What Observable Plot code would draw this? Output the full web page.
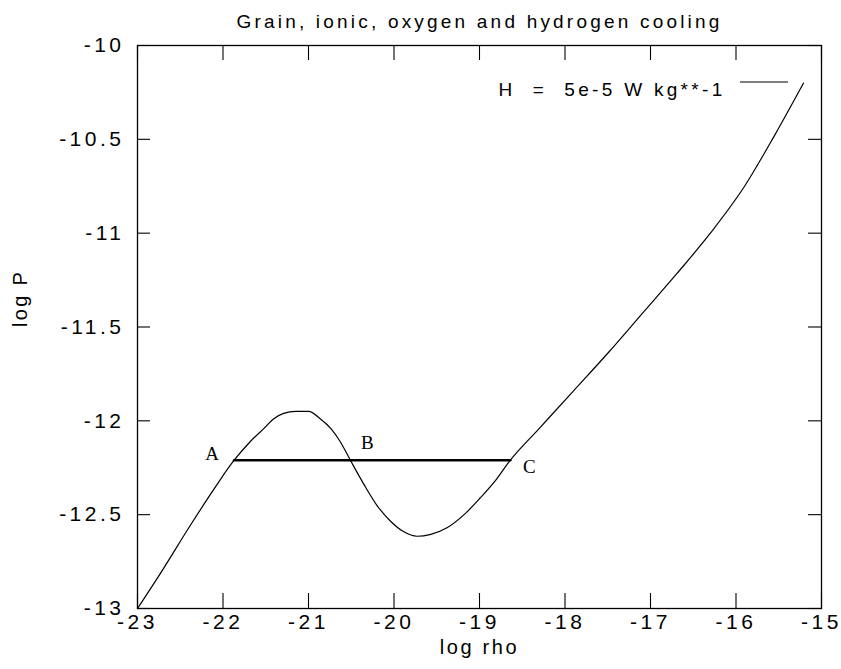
<!DOCTYPE html>
<html>
<head>
<meta charset="utf-8">
<script src="https://cdn.jsdelivr.net/npm/d3@7"></script>
<script src="https://cdn.jsdelivr.net/npm/@observablehq/plot@0.6"></script>
<style>
  html, body { margin: 0; padding: 0; background: #fff; }
  #chart { width: 841px; height: 669px; }
</style>
</head>
<body>
<div id="chart"></div>
<script>
// ---- data ----
const titleText = "Grain, ionic, oxygen and hydrogen cooling";
const legendText = "H  =  5e-5 W kg**-1";
const xLabel = "log rho";
const yLabel = "log P";

const xTicks = [-23, -22, -21, -20, -19, -18, -17, -16, -15];
const yTicks = [-10, -10.5, -11, -11.5, -12, -12.5, -13];

const logRho = [-23.00, -22.70, -22.40, -22.10, -21.87, -21.68, -21.52, -21.41, -21.29, -21.15,
                -21.00, -20.86, -20.74, -20.63, -20.51, -20.35, -20.20, -20.04, -19.89, -19.73,
                -19.57, -19.38, -19.18, -18.99, -18.80, -18.64, -18.30, -17.90, -17.50, -17.10,
                -16.70, -16.30, -15.90, -15.55, -15.21];
const logP   = [-13.00, -12.79, -12.57, -12.36, -12.21, -12.11, -12.04, -11.99, -11.96, -11.95,
                -11.95, -11.99, -12.04, -12.11, -12.21, -12.34, -12.45, -12.535, -12.59, -12.615,
                -12.605, -12.57, -12.50, -12.41, -12.31, -12.21, -12.04, -11.84, -11.64, -11.43,
                -11.22, -11.00, -10.75, -10.48, -10.20];

// equal-pressure line A-B-C
const abcLabels = ["A", "B", "C"];
const abcRho = [-21.87, -20.51, -18.64];
const abcP = -12.21;

// ---- layout ----
const W = 841, H = 669;
const mL = 137, mR = 20, mT = 45, mB = 61;
const fw = W - mL - mR, fh = H - mT - mB;

const curve = logRho.map((x, i) => ({x, y: logP[i]}));
const abc = abcLabels.map((l, i) => ({label: l, x: abcRho[i], y: abcP}));

const serif = "'Liberation Serif', 'DejaVu Serif', serif";

const plot = Plot.plot({
  width: W, height: H,
  marginLeft: mL, marginRight: mR, marginTop: mT, marginBottom: mB,
  style: {fontFamily: "'Liberation Sans', Arial, sans-serif", color: "black", background: "white"},
  x: {domain: [-23, -15]},
  y: {domain: [-13, -10]},
  marks: [
    Plot.frame({stroke: "black", strokeWidth: 1.3}),
    // inward ticks on all four sides
    Plot.ruleX(xTicks, {x: d => d, insetTop: fh - 15, stroke: "black", strokeWidth: 1.1}),
    Plot.ruleX(xTicks, {x: d => d, insetBottom: fh - 15, stroke: "black", strokeWidth: 1.1}),
    Plot.ruleY(yTicks, {y: d => d, insetRight: fw - 13, stroke: "black", strokeWidth: 1.1}),
    Plot.ruleY(yTicks, {y: d => d, insetLeft: fw - 13, stroke: "black", strokeWidth: 1.1}),
    Plot.axisX(xTicks, {tickSize: 0, tickPadding: 6, tickFormat: d => String(d), fontSize: 21, label: null}),
    Plot.axisY(yTicks, {tickSize: 0, tickPadding: 13, tickFormat: d => String(d), fontSize: 21, label: null}),
    // curve
    Plot.line(curve, {x: "x", y: "y", curve: "monotone-x", stroke: "black", strokeWidth: 1.2}),
    // A-C line
    Plot.line(abc, {x: "x", y: "y", stroke: "black", strokeWidth: 2.6}),
    Plot.text(abc.filter(d => d.label === "A"), {x: "x", y: "y", text: "label", dx: -22, dy: -6, fontSize: 19, fontFamily: serif}),
    Plot.text(abc.filter(d => d.label === "B"), {x: "x", y: "y", text: "label", dx: 17, dy: -17, fontSize: 19, fontFamily: serif}),
    Plot.text(abc.filter(d => d.label === "C"), {x: "x", y: "y", text: "label", dx: 19, dy: 7, fontSize: 19, fontFamily: serif}),
    // title, legend, axis labels
    Plot.text([titleText], {frameAnchor: "top", dy: -31, fontSize: 19}),
    Plot.text([legendText], {frameAnchor: "top-right", dx: -96, dy: 37, textAnchor: "end", fontSize: 19}),
    Plot.text([xLabel], {frameAnchor: "bottom", dy: 45, fontSize: 20}),
    Plot.text([yLabel], {frameAnchor: "left", dx: -117, rotate: -90, fontSize: 20})
  ]
});

const svg = d3.select(plot);
// letter spacing like the scanned gnuplot output
const spacing = {};
spacing[titleText] = "3.2px";
spacing[legendText] = "3.3px";
spacing[xLabel] = "2.6px";
spacing[yLabel] = "2.3px";
svg.selectAll("text").each(function() {
  const t = this.textContent;
  if (abcLabels.includes(t)) return;
  this.style.letterSpacing = spacing[t] || "3.5px";
});
// legend line sample
svg.append("line")
  .attr("x1", W - mR - 81).attr("x2", W - mR - 33)
  .attr("y1", mT + 37).attr("y2", mT + 37)
  .attr("stroke", "black").attr("stroke-width", 1.2);

document.getElementById("chart").appendChild(plot);
</script>
</body>
</html>
